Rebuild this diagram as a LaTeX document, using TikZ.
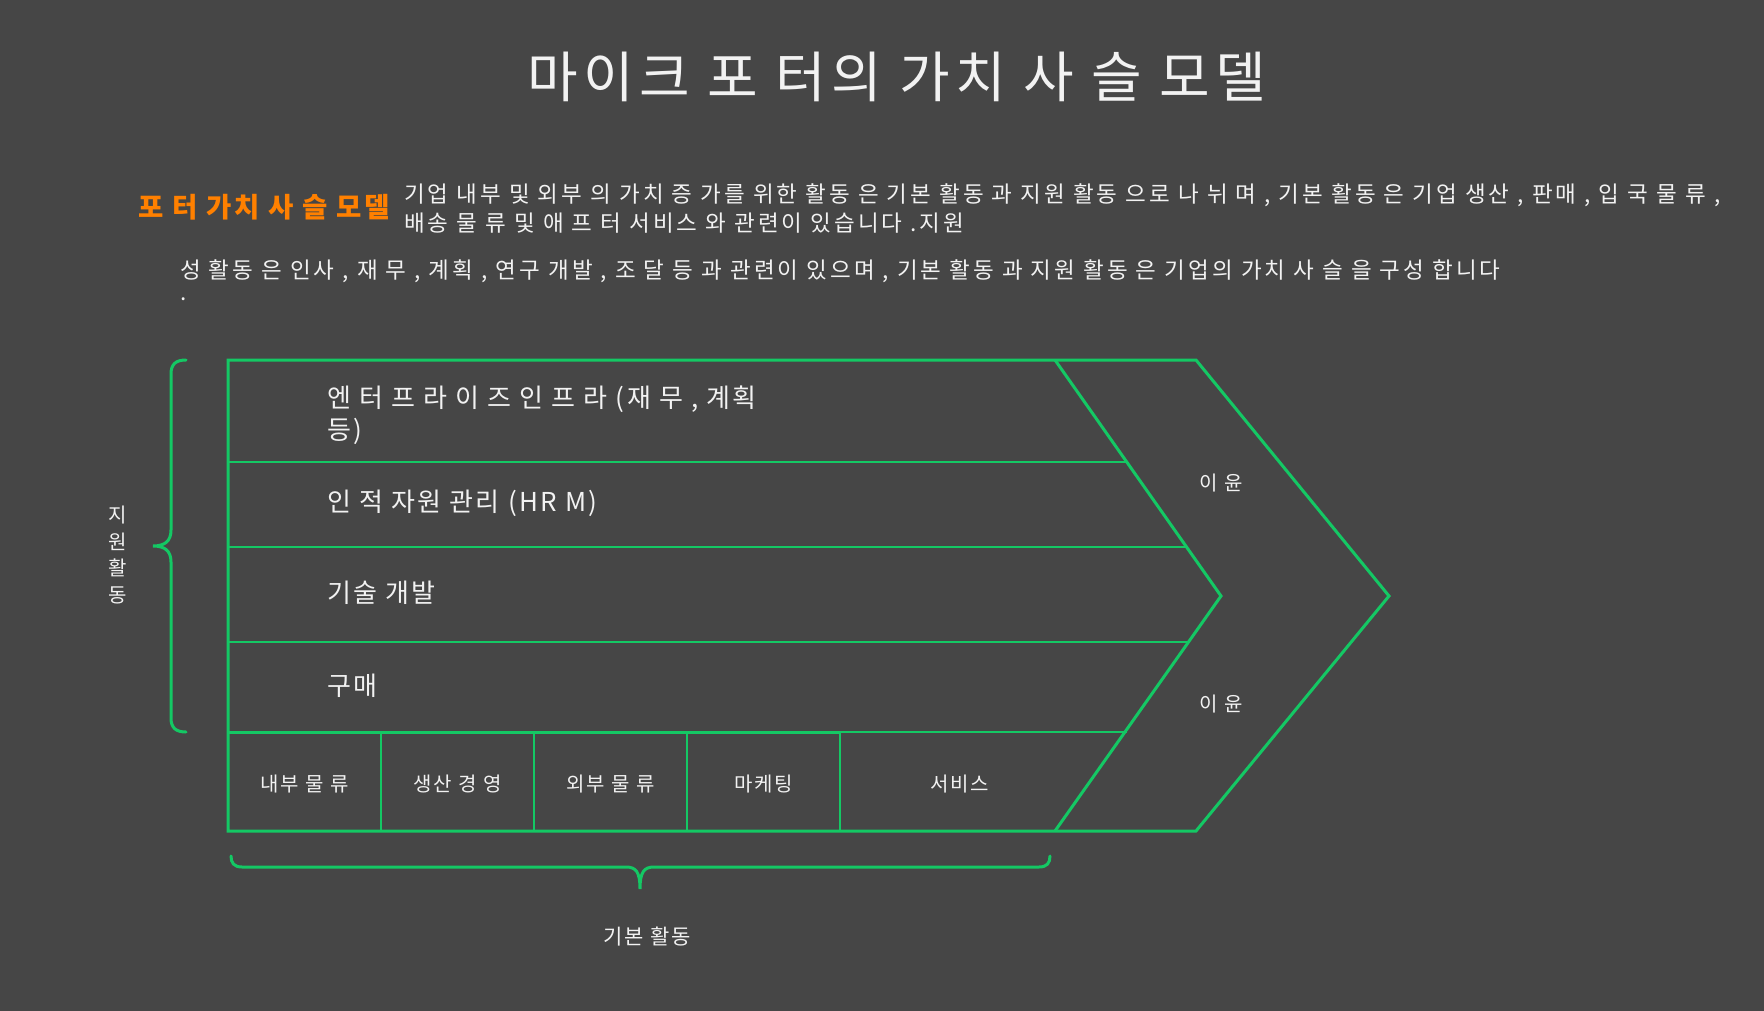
\documentclass[tikz,border=0pt]{standalone}
\usepackage{fontspec}
\setmainfont{Noto Sans CJK KR}[LetterSpace=9]
\newfontfamily\parafont{Noto Sans CJK KR}[LetterSpace=13.5]
\newfontfamily\titlefont{Noto Sans CJK KR}[LetterSpace=9.5]
\definecolor{bg}{HTML}{464646}
\definecolor{vgreen}{HTML}{14C864}
\definecolor{porange}{HTML}{FF8000}
\definecolor{txt}{HTML}{F2F2F2}
\begin{document}
\begin{tikzpicture}[x=1pt,y=-1pt,
  every node/.style={inner sep=0pt, text=txt},
  gline/.style={draw=vgreen, line width=3pt, line join=miter},
  tline/.style={draw=vgreen, line width=2.2pt},
  brace/.style={draw=vgreen, line width=3pt, line cap=round},
  rowlbl/.style={anchor=west, font=\fontsize{26}{32}\selectfont},
  celllbl/.style={font=\fontsize{20}{24}\selectfont},
  para/.style={anchor=west, font=\parafont\fontsize{22.5}{28}\selectfont}]
\fill[bg] (0,0) rectangle (1764,1011);
\useasboundingbox (0,0) rectangle (1764,1011);

% title
\node[font=\titlefont\fontsize{55}{60}\selectfont] (title) at (897,77) {마이크 포 터의 가치 사 슬 모델};

% description
\node[anchor=west, text=porange, font=\fontsize{27.5}{32}\selectfont\bfseries] (subt) at (138,207) {포 터 가치 사 슬 모델};
\node[para] (p1) at (404,195) {기업 내부 및 외부 의 가치 증 가를 위한 활동 은 기본 활동 과 지원 활동 으로 나 뉘 며 , 기본 활동 은 기업 생산 , 판매 , 입 국 물 류 ,};
\node[para] (p2) at (404,223) {배송 물 류 및 애 프 터 서비스 와 관련이 있습니다 .지원};
\node[para] (p3) at (180,271) {성 활동 은 인사 , 재 무 , 계획 , 연구 개발 , 조 달 등 과 관련이 있으며 , 기본 활동 과 지원 활동 은 기업의 가치 사 슬 을 구성 합니다};
\node[para] (p4) at (180,299) {.};

% outer shape
\coordinate (tl) at (228,360);
\coordinate (tr) at (1196,360);
\coordinate (tip) at (1389,596);
\coordinate (br) at (1196,831);
\coordinate (bl) at (228,831);
\coordinate (itop) at (1055,360);
\coordinate (itip) at (1221,596);
\coordinate (ibot) at (1055,831);

% row lines
\draw[tline] (228,462) -- (1127,462);
\draw[tline] (228,547) -- (1187,547);
\draw[tline] (228,642) -- (1187,642);
\draw[tline] (228,732) -- (1127,732);
% bottom cells
\foreach \x in {381,534,687,840} \draw[tline] (\x,732) -- (\x,831);
\draw[gline] (228,732) -- (840,732);

\draw[gline] (itop) -- (itip) -- (ibot);
\draw[gline] (tl) -- (tr) -- (tip) -- (br) -- (bl) -- cycle;

% row labels
\node[rowlbl, align=left] (r1) at (327,415) {엔 터 프 라 이 즈 인 프 라 (재 무 , 계획\\등)};
\node[rowlbl] (r2) at (327,503) {인 적 자원 관리 (HR M)};
\node[rowlbl] (r3) at (327,593) {기술 개발};
\node[rowlbl] (r4) at (327,686) {구매};

% cell labels
\node[celllbl] (c1) at (304.5,784) {내부 물 류};
\node[celllbl] (c2) at (457.5,784) {생산 경 영};
\node[celllbl] (c3) at (610.5,784) {외부 물 류};
\node[celllbl] (c4) at (763.5,784) {마케팅};
\node[celllbl] (c5) at (960,784) {서비스};

% profit
\node[celllbl] (m1) at (1221,483) {이 윤};
\node[celllbl] (m2) at (1221,704) {이 윤};

% left brace
\draw[brace] (186,360) .. controls (176,360) and (171,364) .. (171,374) -- (171,530)
  .. controls (171,541) and (165,546) .. (153,546)
  .. controls (165,546) and (171,551) .. (171,562) -- (171,718)
  .. controls (171,728) and (176,732) .. (186,732);
\node[align=center, font=\fontsize{20}{26.5}\selectfont] (sup) at (118,555) {지\\원\\활\\동};

% bottom brace
\draw[brace] (231,856) .. controls (231,863) and (234,867) .. (242,867) -- (626,867)
  .. controls (636,867) and (640,872) .. (640,889)
  .. controls (640,872) and (644,867) .. (654,867) -- (1039,867)
  .. controls (1047,867) and (1050,863) .. (1050,856);
\node[font=\fontsize{21}{26}\selectfont] (prim) at (647,937) {기본 활동};
\end{tikzpicture}
\end{document}
